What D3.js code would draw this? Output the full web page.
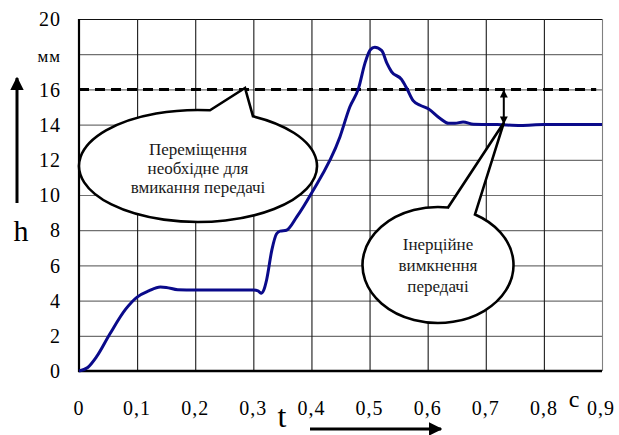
<!DOCTYPE html>
<html><head><meta charset="utf-8">
<script src="https://cdn.jsdelivr.net/npm/d3@7"></script>
<style>
body{margin:0;background:#fff;}
#wrap{position:relative;width:619px;height:435px;}
#wrap svg{position:absolute;left:0;top:0;}
.lbl{position:absolute;font-family:'Liberation Serif','Times New Roman',serif !important;line-height:1;white-space:nowrap;color:#000;}
</style></head>
<body><div id="wrap"><svg id="c" width="619" height="435"></svg></div>
<script>
// ---- data ----
const tValues = [0,0.015,0.03,0.053,0.08,0.1,0.12,0.14,0.15,0.17,0.2,0.25,0.3,0.308,0.314,0.318,0.323,0.332,0.34,0.346,0.357,0.375,0.40,0.449,0.466,0.481,0.492,0.501,0.509,0.521,0.530,0.538,0.555,0.564,0.575,0.587,0.601,0.621,0.636,0.647,0.661,0.679,0.72,0.76,0.8,0.9];
const hValues = [0,0.2,0.8,2.1,3.5,4.2,4.55,4.77,4.75,4.62,4.6,4.6,4.6,4.55,4.42,4.6,5.2,6.9,7.8,7.95,8.0,8.77,10.1,13.3,15.0,16.06,17.48,18.24,18.4,18.2,17.48,17.0,16.57,16.06,15.36,15.1,14.9,14.36,14.07,14.07,14.15,14.02,14.0,13.95,14.0,14.0];
const xTicks = [0,0.1,0.2,0.3,0.4,0.5,0.6,0.7,0.8,0.9];
const xTickLabels = ["0","0,1","0,2","0,3","0,4","0,5","0,6","0,7","0,8","0,9"];
const yTicks = [0,2,4,6,8,10,12,14,16,18,20];
const yTickLabels = ["0","2","4","6","8","10","12","14","16","мм","20"];
const thresholdH = 16;
const settledH = 14;
const note1Lines = ["Переміщення","необхідне для","вмикання передачі"];
const note2Lines = ["Інерційне","вимкнення","передачі"];

// ---- layout ----
const FONT = "'Liberation Serif', 'Times New Roman', serif";
const svg = d3.select("#c");
const wrap = d3.select("#wrap");
const x = d3.scaleLinear().domain([0,0.9]).range([79,602]);
const y = d3.scaleLinear().domain([0,20]).range([371,19]);

// text helper: (x, baseline y, string, font size, anchor)
function label(px, baseline, str, fs, anchor, extra){
  const shift = anchor==="middle"?"-50%":anchor==="end"?"-100%":"0";
  const el = wrap.append("div").attr("class","lbl")
    .style("left",px+"px").style("top",(baseline-0.8375*fs)+"px")
    .style("font-size",fs+"px").style("transform",`translateX(${shift})`)
    .style("font-family",FONT,"important")
    .text(str);
  if(extra) extra(el);
  return el;
}

const defs = svg.append("defs");
defs.append("marker").attr("id","ah").attr("viewBox","0 0 10 10").attr("refX",9).attr("refY",5)
  .attr("markerWidth",4).attr("markerHeight",4).attr("orient","auto-start-reverse").attr("markerUnits","strokeWidth")
  .append("path").attr("d","M0,0 L10,5 L0,10 Z").attr("fill","#000");
defs.append("marker").attr("id","ah2").attr("viewBox","0 0 10 10").attr("refX",9).attr("refY",5)
  .attr("markerWidth",4.5).attr("markerHeight",4.5).attr("orient","auto-start-reverse").attr("markerUnits","strokeWidth")
  .append("path").attr("d","M0,0 L10,5 L0,10 Z").attr("fill","#000");

// grid
const g = svg.append("g");
g.selectAll("line.h").data(yTicks.filter(d=>d>0)).join("line")
  .attr("x1",x(0)).attr("x2",x(0.9)).attr("y1",d=>y(d)+0.5).attr("y2",d=>y(d)+0.5)
  .attr("stroke",d=>d===20?"#111":"#707070").attr("stroke-width",1.2);
g.selectAll("line.v").data(xTicks.filter(d=>d>0)).join("line")
  .attr("y1",y(0)).attr("y2",y(20)).attr("x1",d=>x(d)+0.5).attr("x2",d=>x(d)+0.5)
  .attr("stroke",d=>d===0.9?"#808080":"#1a1a1a").attr("stroke-width",1.1);

// axes lines
g.append("line").attr("x1",x(0)).attr("x2",x(0)).attr("y1",y(0)+1).attr("y2",y(20)).attr("stroke","#000").attr("stroke-width",2.2);
g.append("line").attr("x1",x(0)-1).attr("x2",x(0.9)).attr("y1",y(0)).attr("y2",y(0)).attr("stroke","#000").attr("stroke-width",2.6);

// dashed threshold
svg.append("line").attr("x1",x(0)).attr("x2",x(0.89)).attr("y1",y(thresholdH)).attr("y2",y(thresholdH))
  .attr("stroke","#000").attr("stroke-width",3).attr("stroke-dasharray","10,6");

// curve
const pts = tValues.map((t,i)=>[t,hValues[i]]);
svg.append("path").datum(pts)
  .attr("d",d3.line().x(d=>x(d[0])).y(d=>y(d[1])).curve(d3.curveMonotoneX))
  .attr("fill","none").attr("stroke","#0a0a8a").attr("stroke-width",3).attr("stroke-linejoin","round");

// double arrow
const tArrow = 0.731;
svg.append("line").attr("x1",x(tArrow)).attr("x2",x(tArrow)).attr("y1",y(thresholdH)+1).attr("y2",y(settledH)-1)
  .attr("stroke","#000").attr("stroke-width",2).attr("marker-start","url(#ah)").attr("marker-end","url(#ah)");

// callouts
function callout(cx,cy,rx,ry,bx1,bx2,tip,lines,lineY,fs){
  const ey = bx => cy - ry*Math.sqrt(1-Math.pow((bx-cx)/rx,2));
  const p1=[bx1,ey(bx1)], p2=[bx2,ey(bx2)];
  const d = `M${p2[0]},${p2[1]} A${rx},${ry} 0 1 1 ${p1[0]},${p1[1]} L${tip[0]},${tip[1]} Z`;
  svg.append("path").attr("d",d).attr("fill","#fff").attr("stroke","#000").attr("stroke-width",2.6).attr("stroke-linejoin","miter");
  lines.forEach((s,i)=>label(cx,lineY[i],s,fs,"middle",el=>el.style("color","#1a1a1a")));
}
callout(198,166,119,56,210,253,[x(0.2857),y(16.08)],note1Lines,[155,174,193],17);
callout(438,265,75.5,58,448,475,[x(0.731),y(14.1)],note2Lines,[250,271.5,292],17);

// y tick labels
yTicks.forEach((v,i)=>{
  const isUnit = yTickLabels[i]==="мм";
  label(61, y(v)+(isUnit?8:7), yTickLabels[i], isUnit?17:20, "end", el=>el.style("letter-spacing","1px"));
});

// x tick labels
xTicks.forEach((v,i)=>label(x(v)+(v===0.9?-1:0), 415, xTickLabels[i], 20, "middle", el=>el.style("letter-spacing","1px")));

// axis titles
label(21, 241, "h", 30, "middle");
label(282, 427, "t", 32, "middle");
label(574, 407, "c", 24, "middle");

// direction arrows
svg.append("line").attr("x1",17).attr("x2",17).attr("y1",203).attr("y2",78)
  .attr("stroke","#000").attr("stroke-width",3).attr("marker-end","url(#ah2)");
svg.append("line").attr("x1",310).attr("x2",441).attr("y1",429).attr("y2",429)
  .attr("stroke","#000").attr("stroke-width",3).attr("marker-end","url(#ah2)");
</script></body></html>
